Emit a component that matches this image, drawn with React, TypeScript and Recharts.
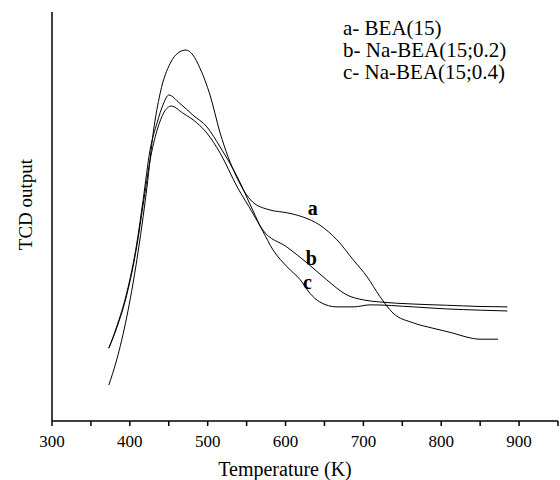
import { LineChart, Line, XAxis, YAxis, Label, ReferenceDot } from 'recharts';

const FONT = '"Liberation Serif", "Times New Roman", serif';

// temperature (K) / TCD signal (arbitrary units)
const aTemps = [373, 383, 396, 409, 422, 430, 439, 452, 462, 472, 481, 490, 503, 516, 537, 558, 580, 602, 622, 644, 666, 687, 705, 721, 738, 764, 789, 815, 833, 850, 873];
const aSignal = [8.8, 14.9, 25.4, 39.4, 57.2, 70.4, 80.2, 87.5, 90.0, 90.7, 89.5, 86.3, 79.7, 70.4, 59.7, 53.5, 51.6, 50.9, 49.9, 47.9, 44.3, 39.4, 35.2, 30.5, 26.4, 24.0, 22.7, 21.5, 20.5, 20.0, 20.0];

const bTemps = [373, 383, 396, 409, 417, 426, 435, 443, 450, 464, 481, 499, 516, 538, 558, 570, 602, 628, 653, 679, 700, 721, 764, 807, 850, 885];
const bSignal = [17.8, 23.0, 31.3, 43.5, 54.0, 66.3, 72.9, 77.5, 79.7, 77.7, 74.8, 71.9, 67.0, 59.7, 51.5, 46.9, 42.5, 38.6, 34.5, 30.8, 29.6, 29.1, 28.6, 28.3, 28.0, 27.9];

const cTemps = [373, 383, 396, 409, 417, 426, 435, 444, 453, 468, 486, 499, 516, 538, 558, 570, 584, 602, 619, 631, 644, 666, 687, 709, 764, 807, 850, 885];
const cSignal = [17.8, 22.7, 30.8, 42.8, 52.8, 63.8, 71.1, 75.5, 77.0, 75.3, 72.9, 70.4, 65.5, 57.2, 50.8, 46.7, 41.8, 37.7, 34.5, 31.3, 29.1, 27.9, 27.9, 28.4, 27.9, 27.4, 27.1, 26.9];

const xTicks = [300, 350, 400, 450, 500, 550, 600, 650, 700, 750, 800, 850, 900, 950];
const legendLines = ['a- BEA(15)', 'b- Na-BEA(15;0.2)', 'c- Na-BEA(15;0.4)'];
const curveTags = [
  { name: 'a', t: 635, v: 52.1 },
  { name: 'b', t: 633, v: 39.9 },
  { name: 'c', t: 628, v: 34.0 },
];

const zip = (ts: number[], vs: number[]) => ts.map((t, i) => ({ t, v: vs[i] }));
const series = [zip(aTemps, aSignal), zip(bTemps, bSignal), zip(cTemps, cSignal)];

export default function App() {
  return (
    <div style={{ position: 'absolute', left: 0, top: 0, width: 560, height: 480, background: '#fff' }}>
      <LineChart width={560} height={480} data={series[0]} margin={{ top: 12, right: 2, left: 0, bottom: 0 }}>
        <XAxis
          dataKey="t"
          type="number"
          domain={[300, 950]}
          ticks={xTicks}
          interval={0}
          tickFormatter={(v: number) => (v % 100 === 0 && v <= 900 ? String(v) : '')}
          tick={{ fill: '#000', fontSize: 17, fontFamily: FONT }}
          tickLine={{ stroke: '#000', strokeWidth: 1.5 }}
          tickSize={5}
          tickMargin={9}
          axisLine={{ stroke: '#000', strokeWidth: 1.5 }}
          height={59}
        >
          <Label value="Temperature (K)" position="insideBottom" offset={4} dx={-20} fill="#000" fontSize={20} fontFamily={FONT} />
        </XAxis>
        <YAxis
          type="number"
          domain={[0, 100]}
          tick={false}
          tickLine={false}
          width={52}
          axisLine={{ stroke: '#000', strokeWidth: 1.5 }}
        >
          <Label value="TCD output" angle={-90} position="center" dx={-1} dy={-12} fill="#000" fontSize={19} fontFamily={FONT} />
        </YAxis>
        {series.map((d, i) => (
          <Line
            key={i}
            data={d}
            dataKey="v"
            type="monotone"
            stroke="#000"
            strokeWidth={1}
            dot={false}
            isAnimationActive={false}
            legendType="none"
          />
        ))}
        {curveTags.map((c) => (
          <ReferenceDot key={c.name} x={c.t} y={c.v} r={0} stroke="none" fill="none">
            <Label value={c.name} position="center" fill="#000" fontSize={20} fontWeight="bold" fontFamily={FONT} />
          </ReferenceDot>
        ))}
      </LineChart>
      <div
        style={{
          position: 'absolute',
          left: 343,
          top: 17,
          fontFamily: FONT,
          fontSize: 21,
          lineHeight: '22px',
          color: '#000',
          whiteSpace: 'nowrap',
        }}
      >
        {legendLines.map((s) => (
          <div key={s}>{s}</div>
        ))}
      </div>
    </div>
  );
}
